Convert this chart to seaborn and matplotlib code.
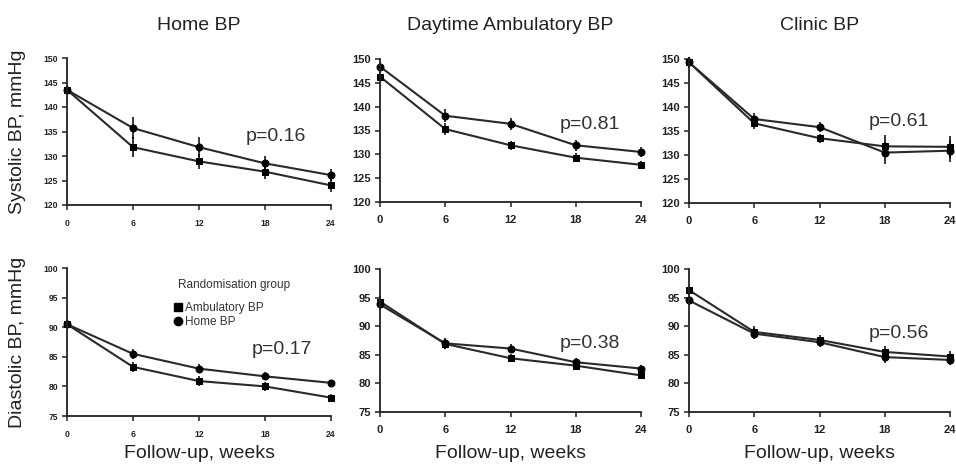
import numpy as np
import pandas as pd
import matplotlib
matplotlib.use("Agg")
import matplotlib.pyplot as plt
from matplotlib.lines import Line2D
import seaborn as sns

sns.set_theme(style="ticks")
plt.rcParams["font.family"] = ["Liberation Sans", "DejaVu Sans"]

weeks = [0, 6, 12, 18, 24]
groups = ["Ambulatory BP", "Home BP"]

# Systolic BP (mmHg) by measurement method
sys_home_amb = [143.5, 131.8, 128.9, 126.8, 124.0]
sys_home_home = [143.5, 135.7, 131.8, 128.5, 126.1]
sys_day_amb = [146.3, 135.3, 131.9, 129.3, 127.8]
sys_day_home = [148.4, 138.1, 136.4, 131.9, 130.5]
sys_clin_amb = [149.3, 136.6, 133.5, 131.8, 131.7]
sys_clin_home = [149.3, 137.5, 135.8, 130.5, 130.9]

# Diastolic BP (mmHg) by measurement method
dia_home_amb = [90.5, 83.3, 80.9, 80.0, 78.1]
dia_home_home = [90.5, 85.5, 83.0, 81.7, 80.6]
dia_day_amb = [94.3, 86.9, 84.4, 83.1, 81.4]
dia_day_home = [93.8, 87.0, 86.1, 83.7, 82.6]
dia_clin_amb = [96.3, 89.0, 87.6, 85.5, 84.7]
dia_clin_home = [94.5, 88.7, 87.2, 84.6, 84.1]

# Standard errors
sys_home_amb_se = [0.8, 2.0, 1.6, 1.5, 1.3]
sys_home_home_se = [0.8, 2.2, 2.0, 1.6, 1.2]
sys_day_amb_se = [1.0, 1.2, 1.0, 0.9, 0.8]
sys_day_home_se = [1.0, 1.4, 1.2, 1.2, 1.0]
sys_clin_amb_se = [1.2, 1.2, 0.9, 2.3, 2.3]
sys_clin_home_se = [1.2, 1.2, 1.0, 2.3, 2.3]
dia_home_amb_se = [0.7, 0.9, 0.9, 0.8, 0.6]
dia_home_home_se = [0.7, 0.8, 0.7, 0.7, 0.5]
dia_day_amb_se = [1.0, 0.8, 0.7, 0.7, 0.6]
dia_day_home_se = [1.0, 0.9, 0.8, 0.7, 0.7]
dia_clin_amb_se = [0.8, 1.0, 0.8, 1.0, 0.9]
dia_clin_home_se = [0.8, 1.0, 0.8, 1.0, 0.9]

col_titles = ["Home BP", "Daytime Ambulatory BP", "Clinic BP"]
p_values = [["p=0.16", "p=0.81", "p=0.61"], ["p=0.17", "p=0.38", "p=0.56"]]
p_pos = [[(16.2, 133.9), (16.5, 136.2), (16.5, 136.9)],
         [(16.8, 86.3), (16.5, 86.9), (16.5, 88.8)]]

panels = [
    [(sys_home_amb, sys_home_home, sys_home_amb_se, sys_home_home_se),
     (sys_day_amb, sys_day_home, sys_day_amb_se, sys_day_home_se),
     (sys_clin_amb, sys_clin_home, sys_clin_amb_se, sys_clin_home_se)],
    [(dia_home_amb, dia_home_home, dia_home_amb_se, dia_home_home_se),
     (dia_day_amb, dia_day_home, dia_day_amb_se, dia_day_home_se),
     (dia_clin_amb, dia_clin_home, dia_clin_amb_se, dia_clin_home_se)],
]

W, H = 956, 468
fig = plt.figure(figsize=(W / 100, H / 100), dpi=100)

# axes boxes in pixels: (left, right, top, bottom)
boxes = [
    [(67, 331, 58, 205), (380, 641, 59, 202), (689, 950, 59, 203)],
    [(67, 331, 268, 416), (380, 641, 269, 412), (689, 950, 269, 412)],
]
ylims = [(120, 150), (75, 100)]
yticks = [np.arange(120, 151, 5), np.arange(75, 101, 5)]

for r in range(2):
    for c in range(3):
        l, rt, t, b = boxes[r][c]
        ax = fig.add_axes([l / W, 1 - b / H, (rt - l) / W, (b - t) / H])
        amb, home, amb_se, home_se = panels[r][c]
        df = pd.DataFrame({
            "week": weeks * 2,
            "bp": amb + home,
            "group": [groups[0]] * 5 + [groups[1]] * 5,
        })
        sns.lineplot(data=df, x="week", y="bp", hue="group", style="group",
                     markers={"Ambulatory BP": "s", "Home BP": "o"}, dashes=False,
                     palette={"Ambulatory BP": "#2a2a2a", "Home BP": "#2a2a2a"},
                     markerfacecolor="black", markeredgecolor="black",
                     markersize=5, linewidth=1.5, legend=False, ax=ax, zorder=3)
        ax.errorbar(weeks, amb, yerr=amb_se, fmt="none", ecolor="black",
                    elinewidth=1.1, capsize=0, zorder=4)
        ax.errorbar(weeks, home, yerr=home_se, fmt="none", ecolor="black",
                    elinewidth=1.1, capsize=0, zorder=4)

        ax.set_xlim(0, 24)
        ax.set_ylim(*ylims[r])
        ax.set_xticks(weeks)
        ax.set_yticks(yticks[r])
        ax.set_xlabel("")
        ax.set_ylabel("")
        sns.despine(ax=ax)
        for s in ["left", "bottom"]:
            ax.spines[s].set_linewidth(1.3)
            ax.spines[s].set_color("#222222")
        fs = 6.2 if c == 0 else 8
        ax.tick_params(axis="both", direction="out", length=3.5, width=1.1,
                       color="#222222", labelsize=fs)
        ax.tick_params(axis="x", pad=6.5 if c == 0 else 6)
        ax.tick_params(axis="y", pad=3)
        for lab in ax.get_xticklabels() + ax.get_yticklabels():
            lab.set_fontweight("bold")
            lab.set_color("#222222")
        ax.patch.set_alpha(0)
        for sp in ax.spines.values():
            sp.set_zorder(5)
        ax.set_clip_on(False)
        for ln in ax.lines:
            ln.set_clip_on(False)
        for coll in ax.collections:
            coll.set_clip_on(False)

        px, py = p_pos[r][c]
        ax.text(px, py, p_values[r][c], fontsize=14, color="#333333",
                ha="left", va="center")

        if r == 0:
            fig.text((l + rt) / 2 / W, 1 - 25 / H, col_titles[c],
                     family=["Liberation Sans Narrow", "Liberation Sans"],
                     fontsize=14, ha="center", va="center", color="#222222")
        else:
            fig.text((l + rt) / 2 / W, 1 - 453 / H, "Follow-up, weeks",
                     fontsize=14, ha="center", va="center", color="#222222")

        if r == 1 and c == 0:
            ax.text(0.42, 0.885, "Randomisation group", transform=ax.transAxes,
                    fontsize=8.5, color="#333333", ha="left", va="center")
            handles = [
                Line2D([], [], marker="s", color="black", linestyle="none", markersize=6),
                Line2D([], [], marker="o", color="black", linestyle="none", markersize=6),
            ]
            ax.legend(handles, groups, loc="upper left", bbox_to_anchor=(0.405, 0.77),
                      frameon=False, fontsize=8.5, handlelength=0.7,
                      handletextpad=0.25, labelspacing=0.15, borderpad=0,
                      borderaxespad=0, labelcolor="#333333")

fig.text(18 / W, 1 - 132 / H, "Systolic BP, mmHg", rotation=90, fontsize=14,
         ha="center", va="center", color="#222222")
fig.text(18 / W, 1 - 342 / H, "Diastolic BP, mmHg", rotation=90, fontsize=14,
         ha="center", va="center", color="#222222")

fig.savefig("out.png", dpi=100, facecolor="white")
